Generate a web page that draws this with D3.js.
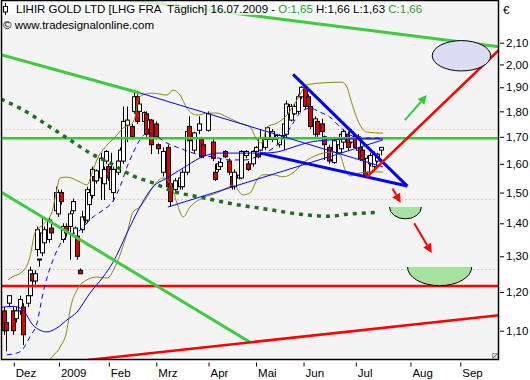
<!DOCTYPE html>
<html><head><meta charset="utf-8">
<script src="https://cdn.jsdelivr.net/npm/d3@7"></script>
<style>body{margin:0;background:#fff}svg{display:block}text{font-family:"Liberation Sans",Arial,sans-serif}</style>
</head><body><svg id="c" width="530" height="380"></svg>
<script>
// ---- data ----
const monthLabels = ["Dez","2009","Feb","Mrz","Apr","Mai","Jun","Jul","Aug","Sep"];
const monthDay = [0,19,40,60,82,102,122,144,167,188];
const yTickValues = [1.1,1.2,1.3,1.4,1.5,1.6,1.7,1.8,1.9,2.0,2.1];

const candleDay = [-4,-3,-2,0,1,3,4,6,7,8, 9,10,11,12,13,15,16,18,19,20, 21,22,24,25,26,27,28,29,30,31, 32,33,34,35,37,38,39,40,41,42, 44,45,46,48,50,51,52,53,55,56, 57,58,60,61,63,65,66,68,70,71, 73,74,76,78,79,80,82,84,85,86, 87,89,91,92,93,95,96,98,99,101, 102,103,104,106,107,109,111,112,114,115, 116,117,118,120,121,123,124,125,127,128, 130,131,133,134,135,137,138,139,141,142, 144,145,146,147,148,149,150,152,153,155];
const candleOpen = [1.15,1.12,1.17,1.15,1.13,1.15,1.16,1.17,1.19,1.25, 1.23,1.32,1.29,1.31,1.34,1.35,1.385,1.44,1.43,1.50, 1.35,1.39,1.39,1.44,1.36,1.36,1.26,1.38,1.42,1.41, 1.46,1.49,1.555,1.54,1.55,1.53,1.61,1.59,1.51,1.50, 1.57,1.61,1.61,1.745,1.74,1.80,1.86,1.80,1.76,1.79, 1.73,1.765,1.75,1.67,1.57,1.66,1.53,1.51,1.52,1.52, 1.57,1.74,1.65,1.725,1.69,1.67,1.725,1.68,1.57,1.58, 1.59,1.645,1.61,1.555,1.52,1.55,1.55,1.63,1.60,1.60, 1.645,1.635,1.65,1.66,1.69,1.69,1.69,1.67,1.705,1.71, 1.79,1.765,1.79,1.80,1.86,1.90,1.86,1.82,1.71,1.76, 1.75,1.70,1.66,1.615,1.605,1.64,1.655,1.68,1.71,1.68, 1.70,1.65,1.66,1.65,1.61,1.57,1.60,1.59,1.61,1.65];
const candleHigh = [1.16,1.13,1.19,1.16,1.16,1.19,1.17,1.20,1.27,1.26, 1.26,1.39,1.292,1.42,1.39,1.42,1.39,1.52,1.51,1.51, 1.40,1.40,1.44,1.48,1.39,1.37,1.265,1.44,1.43,1.52, 1.51,1.59,1.58,1.58,1.64,1.59,1.65,1.60,1.64,1.59, 1.62,1.66,1.82,1.82,1.75,1.88,1.87,1.84,1.80,1.80, 1.77,1.77,1.76,1.675,1.66,1.67,1.54,1.55,1.56,1.58, 1.73,1.78,1.72,1.78,1.70,1.68,1.80,1.69,1.60,1.61, 1.62,1.65,1.62,1.56,1.58,1.565,1.65,1.65,1.61,1.65, 1.665,1.64,1.73,1.70,1.74,1.73,1.71,1.71,1.76,1.845, 1.83,1.83,1.83,1.87,1.905,1.91,1.87,1.83,1.78,1.77, 1.77,1.705,1.67,1.66,1.69,1.675,1.72,1.73,1.72,1.73, 1.71,1.71,1.67,1.655,1.62,1.63,1.64,1.645,1.64,1.66];
const candleLow = [1.09,1.05,1.16,1.09,1.12,1.14,1.065,1.16,1.18,1.22, 1.22,1.30,1.27,1.30,1.33,1.34,1.36,1.43,1.42,1.46, 1.34,1.36,1.29,1.43,1.35,1.29,1.25,1.37,1.40,1.40, 1.45,1.48,1.53,1.53,1.475,1.475,1.60,1.54,1.50,1.47, 1.56,1.60,1.60,1.68,1.69,1.79,1.75,1.79,1.75,1.70, 1.70,1.635,1.69,1.635,1.555,1.51,1.455,1.50,1.51,1.51, 1.56,1.64,1.64,1.71,1.62,1.62,1.72,1.61,1.54,1.57, 1.585,1.62,1.56,1.51,1.51,1.545,1.545,1.62,1.575,1.59, 1.64,1.62,1.645,1.65,1.68,1.68,1.685,1.66,1.65,1.70, 1.78,1.76,1.785,1.79,1.85,1.81,1.81,1.73,1.70,1.70, 1.70,1.614,1.60,1.61,1.60,1.635,1.65,1.675,1.65,1.675, 1.655,1.645,1.61,1.61,1.55,1.56,1.59,1.585,1.605,1.63];
const candleClose = [1.10,1.10,1.19,1.10,1.15,1.18,1.09,1.19,1.26,1.23, 1.25,1.38,1.292,1.37,1.38,1.41,1.37,1.50,1.50,1.47, 1.39,1.37,1.43,1.47,1.385,1.30,1.25,1.42,1.41,1.51, 1.50,1.58,1.54,1.575,1.62,1.58,1.645,1.55,1.58,1.58, 1.61,1.65,1.76,1.765,1.70,1.86,1.76,1.83,1.795,1.71, 1.765,1.67,1.70,1.655,1.645,1.52,1.47,1.54,1.55,1.57, 1.72,1.685,1.715,1.75,1.625,1.63,1.79,1.62,1.545,1.60, 1.605,1.625,1.57,1.52,1.57,1.56,1.645,1.645,1.58,1.645, 1.66,1.625,1.695,1.69,1.735,1.72,1.705,1.705,1.75,1.83, 1.82,1.82,1.82,1.86,1.90,1.82,1.82,1.74,1.77,1.71, 1.72,1.67,1.61,1.65,1.685,1.67,1.71,1.72,1.66,1.72, 1.66,1.70,1.62,1.615,1.555,1.62,1.63,1.635,1.635,1.66];

const bbUpper = [[-2.2,1.233],[-0.5,1.241],[3.7,1.255],[7,1.298],[9.1,1.37],[12.5,1.396],[16.3,1.436],[17.6,1.482],[19.7,1.55],[22.6,1.553],[28.1,1.536],[31,1.526],[33.6,1.578],[35.2,1.614],[39.5,1.669],[43.7,1.707],[46.2,1.734],[49.1,1.745],[51.2,1.773],[52.5,1.846],[54.2,1.867],[58.8,1.875],[64.7,1.867],[67.2,1.888],[70.2,1.867],[73.1,1.813],[77.3,1.785],[82,1.793],[85.8,1.793],[90,1.777],[95.5,1.753],[99.7,1.738],[102.6,1.688],[104.7,1.677],[106.8,1.738],[111,1.753],[115.2,1.785],[119.4,1.846],[123.6,1.91],[129.1,1.918],[138.4,1.922],[140.5,1.901],[141.8,1.858],[143.9,1.793],[146,1.745],[149,1.718],[155.7,1.714]];
const bbLower = [[12.5,0.99],[15.5,1.03],[19.7,1.06],[22.6,1.102],[23.9,1.152],[26.8,1.205],[31,1.233],[35.2,1.241],[39.5,1.238],[42.8,1.269],[47.9,1.37],[50.4,1.436],[53.3,1.452],[56.3,1.485],[58.8,1.519],[63,1.55],[66,1.533],[68.9,1.465],[71.5,1.42],[74.4,1.452],[79.9,1.482],[85.8,1.499],[90,1.516],[92.5,1.526],[96.7,1.492],[99.7,1.499],[102.6,1.543],[105.1,1.561],[109.3,1.561],[113.6,1.554],[117.8,1.568],[122,1.603],[126.2,1.625],[130.4,1.639],[134.6,1.643],[137.6,1.632],[139.7,1.578],[141.8,1.557],[146,1.568],[150.2,1.571],[155.7,1.571]];
const maSlow = [[-5.2,1.159],[0,1.162],[4.1,1.152],[8.3,1.114],[14.2,1.097],[18.4,1.107],[22.6,1.127],[26.8,1.147],[32.3,1.197],[37.8,1.241],[42,1.283],[47.9,1.37],[53.3,1.452],[58.8,1.519],[64.7,1.55],[71.5,1.585],[78.6,1.621],[85.8,1.639],[92.5,1.639],[99.7,1.639],[105.1,1.639],[111,1.643],[117.8,1.661],[124.9,1.68],[133.3,1.688],[141.8,1.692],[155.7,1.692]];
const maFast = [[-2.7,1.042],[2.8,1.049],[7,1.085],[10,1.12],[12.5,1.197],[16.7,1.289],[20.9,1.348],[28.1,1.379],[33.6,1.42],[37.8,1.442],[42,1.472],[44.9,1.519],[47.9,1.589],[50.4,1.639],[53.3,1.688],[56.3,1.714],[59.7,1.707],[63.9,1.68],[68.9,1.661],[74.4,1.643],[78.6,1.632],[84.1,1.625],[91.2,1.614],[97.6,1.614],[103.9,1.632],[108.1,1.65],[112.3,1.68],[116.5,1.734],[120.7,1.793],[124.9,1.813],[129.1,1.797],[133.3,1.777],[137.6,1.738],[141.8,1.707],[146,1.695],[155.7,1.695]];
const ma200 = [[-5.2,1.85],[2.8,1.813],[15.5,1.738],[23.9,1.688],[32.3,1.639],[40.7,1.603],[50.4,1.557],[58.8,1.533],[68.1,1.502],[78.6,1.485],[92.5,1.462],[106.8,1.445],[120.7,1.429],[133.3,1.422],[140.5,1.429],[149,1.433],[153.6,1.435]];

const dottedLevels = [1.729,1.477,1.262];
const greenLevel = 1.695;
const redLevel = 1.216;
const greenTrends = [[[36.5,2.331],[204.5,2.081]],[[-5.2,2.044],[53.3,1.876]],[[-5.2,1.502],[99.7,1.072]]];
const redTrends = [[[31.4,1.03],[204.5,1.139]],[[148.9,1.554],[204.5,2.066]]];
const blueThick = [[[117.8,1.956],[165.9,1.522]],[[103.9,1.639],[165.9,1.522]]];
const blueThin = [[[53.3,1.876],[155.6,1.589]],[[65.1,1.452],[155.6,1.688]]];
const arrowsGreen = [[[164.9,1.765],[174.1,1.867]]];
const arrowsRed = [[[159.7,1.514],[163.1,1.466]],[[168.8,1.400],[176.2,1.310]]];
// bowls: [centerDay, halfWidthDays, topPrice, bottomPrice]
const bowls = [[165.1,6.7,1.452,1.414],[179.5,13.5,1.269,1.217]];
// target ellipse: [centerDay, halfWidthDays, topPrice, bottomPrice]
const target = [188.7,12.3,2.110,1.971];

// ---- layout ----
const svg = d3.select("#c");
const L=1.5, T=0.5, R=498.5, B=359.5;
const x = d3.scaleLinear().domain([0,188]).range([13.3, 13.3+188*2.375]);
const y = d3.scaleLog().domain([1.1,2.1]).range([330.7,42.7]);

svg.append("rect").attr("width",530).attr("height",380).attr("fill","#fff");
svg.append("rect").attr("x",L).attr("y",T).attr("width",R-L).attr("height",B-T).attr("fill","#f4f4f4");
svg.append("clipPath").attr("id","clip").append("rect").attr("x",L).attr("y",T).attr("width",R-L).attr("height",B-T);
const g = svg.append("g").attr("clip-path","url(#clip)");

const seg = d3.line().x(d=>x(d[0])).y(d=>y(d[1]));
const curve = d3.line().x(d=>x(d[0])).y(d=>y(d[1])).curve(d3.curveMonotoneX);

// dotted levels
g.selectAll(".dl").data(dottedLevels).join("line")
  .attr("x1",L).attr("x2",R).attr("y1",d=>y(d)).attr("y2",d=>y(d))
  .attr("stroke","#d49a9a").attr("stroke-width",1).attr("stroke-dasharray","1,3");

// candles
const candles = candleDay.map((d,i)=>({d,o:candleOpen[i],h:candleHigh[i],l:candleLow[i],c:candleClose[i]}));
const cg = g.append("g");
cg.selectAll("line").data(candles).join("line")
  .attr("x1",d=>Math.round(x(d.d))+0.5).attr("x2",d=>Math.round(x(d.d))+0.5)
  .attr("y1",d=>y(d.h)).attr("y2",d=>y(d.l)).attr("stroke","#000").attr("stroke-width",1);
cg.selectAll("rect").data(candles).join("rect")
  .attr("x",d=>Math.round(x(d.d))-1.5)
  .attr("width",4)
  .attr("y",d=>y(Math.max(d.o,d.c)))
  .attr("height",d=>Math.max(1,Math.abs(y(d.o)-y(d.c))))
  .attr("fill",d=>d.c>=d.o?"#fff":"#e00000").attr("stroke","#000").attr("stroke-width",1);

// horizontal levels
g.append("line").attr("x1",L).attr("x2",R).attr("y1",y(greenLevel)).attr("y2",y(greenLevel)).attr("stroke","#33cc33").attr("stroke-width",2.5);
g.append("line").attr("x1",L).attr("x2",R).attr("y1",y(redLevel)).attr("y2",y(redLevel)).attr("stroke","#ff0000").attr("stroke-width",2.5);

// indicators
g.append("path").attr("d",curve(bbUpper)).attr("fill","none").attr("stroke","#8a8a00").attr("stroke-width",1);
g.append("path").attr("d",curve(bbLower)).attr("fill","none").attr("stroke","#8a8a00").attr("stroke-width",1);
g.append("path").attr("d",curve(maSlow)).attr("fill","none").attr("stroke","#0000ff").attr("stroke-width",1);
g.append("path").attr("d",curve(maFast)).attr("fill","none").attr("stroke","#0000ff").attr("stroke-width",1).attr("stroke-dasharray","5,4");
g.append("path").attr("d",curve(ma200)).attr("fill","none").attr("stroke","#1d6e1d").attr("stroke-width",3.5).attr("stroke-dasharray","4,5");

// trend lines
greenTrends.forEach(t=>g.append("path").attr("d",seg(t)).attr("stroke","#3ccc3c").attr("stroke-width",3).attr("fill","none"));
blueThin.forEach(t=>g.append("path").attr("d",seg(t)).attr("stroke","#0000ff").attr("stroke-width",1).attr("fill","none"));
blueThick.forEach(t=>g.append("path").attr("d",seg(t)).attr("stroke","#0000ff").attr("stroke-width",3).attr("fill","none"));
redTrends.forEach(t=>g.append("path").attr("d",seg(t)).attr("stroke","#ff0000").attr("stroke-width",2.5).attr("fill","none"));

// target ellipse
{
  const cx=x(target[0]), rx=x(target[0]+target[1])-cx, yt=y(target[2]), yb=y(target[3]);
  g.append("ellipse").attr("cx",cx).attr("cy",(yt+yb)/2).attr("rx",rx).attr("ry",(yb-yt)/2)
   .attr("fill","#dcdcf4").attr("stroke","#000").attr("stroke-width",1);
}
// bowls
bowls.forEach(b=>{
  const cx=x(b[0]), rx=x(b[0]+b[1])-cx, cy=y(b[2]), ry=y(b[3])-cy;
  g.append("path").attr("d",`M${cx-rx},${cy}A${rx},${ry} 0 0 0 ${cx+rx},${cy}Z`).attr("fill","#a6e3a0");
  g.append("path").attr("d",`M${cx-rx},${cy}A${rx},${ry} 0 0 0 ${cx+rx},${cy}`).attr("fill","none").attr("stroke","#000").attr("stroke-width",1);
});
// arrows
function arrow(a,color){
  const x1=x(a[0][0]),y1=y(a[0][1]),x2=x(a[1][0]),y2=y(a[1][1]);
  const ang=Math.atan2(y2-y1,x2-x1), hl=9, hw=4.5;
  const bx=x2-hl*Math.cos(ang), by=y2-hl*Math.sin(ang);
  g.append("line").attr("x1",x1).attr("y1",y1).attr("x2",bx).attr("y2",by).attr("stroke",color).attr("stroke-width",2);
  const px=-Math.sin(ang)*hw, py=Math.cos(ang)*hw;
  g.append("path").attr("d",`M${x2},${y2}L${bx+px},${by+py}L${bx-px},${by-py}Z`).attr("fill",color);
}
arrowsGreen.forEach(a=>arrow(a,"#33cc33"));
arrowsRed.forEach(a=>arrow(a,"#ff0000"));

// title
const title = svg.append("g");
const bg = title.append("rect").attr("fill","#fff").attr("opacity",0.75);
const t1 = title.append("text").attr("x",16).attr("y",13).attr("font-size",11.5).style("white-space","pre");
t1.append("tspan").attr("fill","#000").text("LIHIR GOLD LTD [LHG FRA  Täglich] 16.07.2009 - ");
t1.append("tspan").attr("fill","#16a316").text("O:1,65");
t1.append("tspan").attr("fill","#000").text(" H:1,66 L:1,63 ");
t1.append("tspan").attr("fill","#16a316").text("C:1,66");
const bb = t1.node().getBBox();
bg.attr("x",2).attr("y",1).attr("width",bb.x+bb.width-1).attr("height",14);
title.append("line").attr("x1",5.5).attr("x2",5.5).attr("y1",3).attr("y2",15).attr("stroke","#000");
title.append("rect").attr("x",3.5).attr("y",6.5).attr("width",4).attr("height",5.5).attr("fill","#fff").attr("stroke","#000");
title.append("text").attr("x",3).attr("y",29).attr("font-size",11.5).attr("fill","#000").text("© www.tradesignalonline.com");

// frame
svg.append("rect").attr("x",L).attr("y",T).attr("width",R-L).attr("height",B-T).attr("fill","none").attr("stroke","#000").attr("stroke-width",1.5);
// corner glyph
svg.append("rect").attr("x",492.5).attr("y",353.5).attr("width",5).attr("height",5).attr("fill","#ddd").attr("stroke","#999").attr("stroke-width",1);
svg.append("line").attr("x1",493).attr("y1",358).attr("x2",497.5).attr("y2",353.5).attr("stroke","#666");

// y axis
const ya = svg.append("g").attr("transform",`translate(${R+1.5},0)`)
  .call(d3.axisRight(y).tickValues(yTickValues).tickSize(4).tickPadding(2).tickFormat(d=>d.toFixed(2).replace(".",",")));
ya.select(".domain").remove();
ya.selectAll("text").attr("font-size",11.5).attr("font-family","Liberation Sans, Arial, sans-serif").attr("fill","#000");
ya.selectAll("line").attr("stroke","#000");
svg.append("text").attr("x",503).attr("y",14).attr("font-size",11.5).text("€");

// x axis
const xa = svg.append("g").attr("transform",`translate(0,${B+3})`)
  .call(d3.axisBottom(x).tickValues(monthDay).tickSize(4).tickFormat((d,i)=>monthLabels[i]));
xa.select(".domain").remove();
xa.selectAll("line").attr("stroke","#000").attr("transform","translate(0.5,0)");
xa.selectAll("text").attr("text-anchor","start").attr("dx",2).attr("y",6.5).attr("dy","0.71em")
  .attr("font-size",11.5).attr("font-family","Liberation Sans, Arial, sans-serif").attr("fill","#000");
</script></body></html>
